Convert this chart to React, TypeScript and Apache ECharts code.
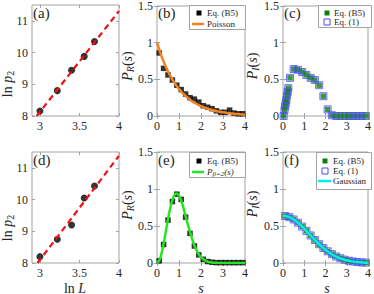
import React, { useEffect, useRef } from 'react';
import * as echarts from 'echarts';

// ---------- data ----------
const lnL = [3.0, 3.22, 3.4, 3.56, 3.69];
const lnp2A = [8.16, 8.8, 9.44, 9.88, 10.35];
const fitAX = [2.96, 4.0];
const fitAY = [8.0, 11.31];
const lnp2D = [8.2, 8.75, 9.2, 10.05, 10.43];
const fitDX = [2.97, 4.0];
const fitDY = [8.0, 11.38];

const sPts = [0.1, 0.3, 0.5, 0.7, 0.9, 1.1, 1.3, 1.5, 1.7, 1.9, 2.1, 2.3, 2.5, 2.7, 2.9, 3.1, 3.3, 3.5, 3.7, 3.9];
const prB = [0.86, 0.65, 0.56, 0.49, 0.42, 0.36, 0.3, 0.25, 0.23, 0.19, 0.14, 0.12, 0.1, 0.07, 0.05, 0.05, 0.08, 0.04, 0.03, 0.03];
const curveS = [0, 0.25, 0.5, 0.75, 1, 1.25, 1.5, 1.75, 2, 2.25, 2.5, 2.75, 3, 3.25, 3.5, 3.75, 4];
const poissonP = [1, 0.779, 0.607, 0.472, 0.368, 0.287, 0.223, 0.174, 0.135, 0.105, 0.082, 0.064, 0.05, 0.039, 0.03, 0.024, 0.018];

const sC = [0.03, 0.07, 0.1, 0.13, 0.16, 0.19, 0.22, 0.25, 0.33, 0.5, 0.7, 0.9, 1.1, 1.3, 1.5, 1.7, 1.9, 2.1, 2.3, 2.5, 2.7, 2.9, 3.1, 3.3, 3.5, 3.7, 3.9];
const piC = [0, 0.08, 0.13, 0.18, 0.22, 0.28, 0.33, 0.38, 0.52, 0.64, 0.63, 0.6, 0.56, 0.52, 0.49, 0.42, 0.27, 0.09, 0.01, 0, 0, 0, 0, 0, 0, 0, 0];

const prE = [0.03, 0.25, 0.58, 0.83, 0.93, 0.86, 0.62, 0.4, 0.23, 0.11, 0.05, 0.02, 0.01, 0.005, 0.005, 0.005, 0.005, 0.005, 0.005, 0.005];
const wignerS = [0, 0.125, 0.25, 0.375, 0.5, 0.625, 0.75, 0.875, 1, 1.125, 1.25, 1.375, 1.5, 1.625, 1.75, 1.875, 2, 2.25, 2.5, 2.75, 3, 3.5, 4];
const wignerP = [0, 0.05, 0.19, 0.38, 0.59, 0.77, 0.89, 0.94, 0.91, 0.82, 0.69, 0.55, 0.42, 0.3, 0.2, 0.13, 0.08, 0.026, 0.007, 0.002, 0, 0, 0];

const piF = [0.635, 0.619, 0.588, 0.545, 0.492, 0.434, 0.372, 0.311, 0.254, 0.202, 0.158, 0.12, 0.088, 0.064, 0.044, 0.03, 0.02, 0.013, 0.008, 0.005];
const gaussP = [0.637, 0.625, 0.588, 0.532, 0.463, 0.388, 0.312, 0.241, 0.179, 0.127, 0.087, 0.057, 0.036, 0.022, 0.013, 0.007, 0.004];

const xTicksL = [3, 3.5, 4];
const yTicksL = [8, 9, 10, 11];
const xTicksS = [0, 1, 2, 3, 4];
const yTicksP = [0, 0.5, 1, 1.5];

// ---------- styling ----------
const FONT = 'Liberation Serif';
const FRAME = '#a3a3a3';
const TXT = '#262626';
const GREEN = '#0a800a';
const BLUE = '#4a4aff';

const zip = (a: number[], b: number[]) => a.map((v, i) => [v, b[i]]);

const gridBoxes = [
  { left: 32, top: 5, width: 87, height: 111 },
  { left: 157, top: 5, width: 88, height: 111 },
  { left: 283, top: 5, width: 88, height: 111 },
  { left: 32, top: 152, width: 87, height: 111 },
  { left: 157, top: 152, width: 88, height: 111 },
  { left: 283, top: 152, width: 88, height: 111 },
];

const ranges = [
  { x: [2.9, 4], y: [8, 11.5], xt: xTicksL, yt: yTicksL },
  { x: [0, 4], y: [0, 1.5], xt: xTicksS, yt: yTicksP },
  { x: [0, 4], y: [0, 1.5], xt: xTicksS, yt: yTicksP },
  { x: [2.9, 4], y: [8, 11.5], xt: xTicksL, yt: yTicksL },
  { x: [0, 4], y: [0, 1.5], xt: xTicksS, yt: yTicksP },
  { x: [0, 4], y: [0, 1.5], xt: xTicksS, yt: yTicksP },
];

const labelStyle = { fontFamily: FONT, fontSize: 12, color: TXT };

function buildAxes() {
  const xAxis: any[] = [];
  const yAxis: any[] = [];
  for (let mirror = 0; mirror < 2; mirror++) {
    ranges.forEach((r, i) => {
      xAxis.push({
        type: 'value', gridIndex: i, min: r.x[0], max: r.x[1],
        position: mirror ? 'top' : 'bottom',
        axisLine: { show: false },
        splitLine: { show: false },
        axisTick: { show: true, inside: true, length: 3, customValues: r.xt, lineStyle: { color: FRAME } },
        axisLabel: { show: !mirror, customValues: r.xt, margin: 4, lineHeight: 12, ...labelStyle },
      });
      yAxis.push({
        type: 'value', gridIndex: i, min: r.y[0], max: r.y[1],
        position: mirror ? 'right' : 'left',
        axisLine: { show: false },
        splitLine: { show: false },
        axisTick: { show: true, inside: true, length: 3, customValues: r.yt, lineStyle: { color: FRAME } },
        axisLabel: { show: !mirror, customValues: r.yt, margin: 4, ...labelStyle },
      });
    });
  }
  return { xAxis, yAxis };
}

const base = { fontFamily: FONT, fontWeight: 'normal', color: TXT, fill: TXT };
const rich = {
  n: { ...base, fontSize: 14, lineHeight: 15, verticalAlign: 'top' },
  i: { ...base, fontSize: 14, fontStyle: 'italic', lineHeight: 15, verticalAlign: 'top' },
  sub: { ...base, fontSize: 10, fontStyle: 'italic', lineHeight: 11, padding: [6, 0, 0, 0], verticalAlign: 'bottom' },
  subn: { ...base, fontSize: 10, lineHeight: 11, padding: [6, 0, 0, 0], verticalAlign: 'bottom' },
  xn: { ...base, fontSize: 14, lineHeight: 10 },
  xi: { ...base, fontSize: 14, fontStyle: 'italic', lineHeight: 10 },
  lni: { ...base, fontSize: 9, fontStyle: 'italic', lineHeight: 10, verticalAlign: 'top' },
  lsub: { ...base, fontSize: 7, fontStyle: 'italic', lineHeight: 8, padding: [4, 0, 0, 0], verticalAlign: 'bottom' },
};

function axisName(text: string, x: number, y: number, rotate: boolean) {
  return {
    type: 'text', x, y, rotation: rotate ? Math.PI / 2 : 0, z: 10,
    style: { text, rich, fontFamily: FONT, fontWeight: 'normal', textAlign: 'center', textVerticalAlign: 'middle' },
  };
}

function panelLabel(text: string, x: number, y: number) {
  return {
    type: 'text', x, y, z: 10,
    style: { text, fontFamily: FONT, fontWeight: 'normal', fontSize: 15, fill: TXT, textAlign: 'left', textVerticalAlign: 'top' },
  };
}

function legendText(text: string, x: number, y: number, useRich = false) {
  return {
    type: 'text', x, y, z: 21,
    style: useRich
      ? { text, rich, fontFamily: FONT, fontWeight: 'normal', textAlign: 'left', textVerticalAlign: 'middle' }
      : { text, fontFamily: FONT, fontWeight: 'normal', fontSize: 9, fill: TXT, textAlign: 'left', textVerticalAlign: 'middle' },
  };
}

function legendBox(x: number, y: number, w: number, h: number) {
  return { type: 'rect', z: 20, shape: { x: x + 0.5, y: y + 0.5, width: w, height: h }, style: { fill: '#fff', stroke: FRAME, lineWidth: 1 } };
}
function legendSquare(cx: number, cy: number, color: string, filled: boolean, size = 5) {
  return {
    type: 'rect', z: 21, shape: { x: cx - size / 2, y: cy - size / 2, width: size, height: size },
    style: filled ? { fill: color } : { fill: 'none', stroke: color, lineWidth: 1 },
  };
}
function legendLine(x1: number, x2: number, y: number, color: string) {
  return { type: 'line', z: 21, shape: { x1, y1: y, x2, y2: y }, style: { stroke: color, lineWidth: 2.5 } };
}

export default function App() {
  const ref = useRef<HTMLDivElement>(null);
  useEffect(() => {
    if (!ref.current) return;
    const chart = echarts.init(ref.current, undefined, { renderer: 'svg' });
    const { xAxis, yAxis } = buildAxes();
    const sq = (gi: number, data: number[][], color: string, size = 5.5) => ({
      type: 'scatter', xAxisIndex: gi, yAxisIndex: gi, data, symbol: 'rect', symbolSize: size,
      itemStyle: { color }, silent: true,
    });
    const openSq = (gi: number, data: number[][]) => ({
      type: 'scatter', xAxisIndex: gi, yAxisIndex: gi, data, symbol: 'rect', symbolSize: 7,
      itemStyle: { color: 'rgba(0,0,0,0)', borderColor: BLUE, borderWidth: 1 }, silent: true,
    });
    const curve = (gi: number, data: number[][], color: string, dashed = false, smooth = true) => ({
      type: 'line', xAxisIndex: gi, yAxisIndex: gi, data, showSymbol: false, symbol: 'none', smooth,
      lineStyle: { color, width: dashed ? 2.2 : 2.5, type: dashed ? [6, 4] : 'solid' }, silent: true,
    });
    const dots = (gi: number, data: number[][]) => ({
      type: 'scatter', xAxisIndex: gi, yAxisIndex: gi, data, symbol: 'circle', symbolSize: 7,
      itemStyle: { color: '#000' }, silent: true,
    });

    const option: any = {
      animation: false,
      backgroundColor: '#fff',
      grid: gridBoxes.map((g) => ({ ...g, show: true, borderColor: FRAME, borderWidth: 1, backgroundColor: 'transparent' })),
      xAxis,
      yAxis,
      series: [
        dots(0, zip(lnL, lnp2A)),
        curve(0, zip(fitAX, fitAY), '#ee1111', true, false),
        sq(1, zip(sPts, prB), '#000'),
        curve(1, zip(curveS, poissonP), '#f58220'),
        sq(2, zip(sC, piC), GREEN),
        openSq(2, zip(sC, piC)),
        dots(3, zip(lnL, lnp2D)),
        curve(3, zip(fitDX, fitDY), '#ee1111', true, false),
        sq(4, zip(sPts, prE), '#000'),
        curve(4, zip(wignerS, wignerP), '#22e622'),
        sq(5, zip(sPts, piF), GREEN),
        openSq(5, zip(sPts, piF)),
        curve(5, zip(curveS, gaussP), '#00eeee'),
      ],
      graphic: [
        panelLabel('(a)', 33, 5),
        panelLabel('(b)', 158, 5),
        panelLabel('(c)', 284, 5),
        panelLabel('(d)', 33, 152),
        panelLabel('(e)', 158, 152),
        panelLabel('(f)', 284, 152),
        axisName('{n|ln }{i|p}{subn|2}', 8, 84, true),
        axisName('{i|P}{sub|R}{n|(}{i|s}{n|)}', 128, 66, true),
        axisName('{i|P}{sub|I}{n|(}{i|s}{n|)}', 253, 66, true),
        axisName('{n|ln }{i|p}{subn|2}', 8, 228, true),
        axisName('{i|P}{sub|R}{n|(}{i|s}{n|)}', 128, 205, true),
        axisName('{i|P}{sub|I}{n|(}{i|s}{n|)}', 253, 204, true),
        axisName('{xn|ln }{xi|L}', 75, 288, false),
        axisName('{xi|s}', 201, 288, false),
        axisName('{xi|s}', 327, 288, false),
        // legend (b)
        legendBox(189, 5, 56, 24),
        legendSquare(199, 13, '#000', true),
        legendText('Eq. (B5)', 207, 13),
        legendLine(192, 204, 24, '#f58220'),
        legendText('Poisson', 207, 24),
        // legend (c)
        legendBox(318, 5, 53, 22),
        legendSquare(327, 13, GREEN, true),
        legendText('Eq. (B5)', 334, 13),
        legendSquare(327, 22, BLUE, false, 6),
        legendText('Eq. (1)', 334, 22),
        // legend (e)
        legendBox(189, 152, 56, 25),
        legendSquare(199, 161, '#000', true),
        legendText('Eq. (B5)', 207, 161),
        legendLine(192, 204, 172, '#22e622'),
        legendText('{lni|P}{lsub|β=2}{lni|(s)}', 207, 172, true),
        // legend (f)
        legendBox(316, 152, 55, 37),
        legendSquare(325, 161, GREEN, true),
        legendText('Eq. (B5)', 333, 161),
        legendSquare(325, 171, BLUE, false, 6),
        legendText('Eq. (1)', 333, 171),
        legendLine(318, 331, 181, '#00eeee'),
        legendText('Gaussian', 333, 181),
      ],
    };
    chart.setOption(option);
    return () => chart.dispose();
  }, []);
  return <div ref={ref} style={{ position: 'fixed', left: 0, top: 0, width: 374, height: 294 }} />;
}
